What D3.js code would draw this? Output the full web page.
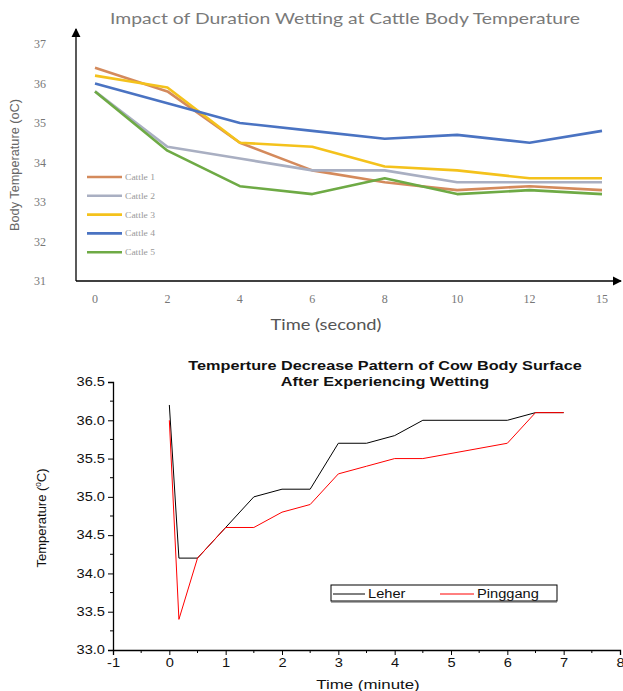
<!DOCTYPE html>
<html>
<head>
<meta charset="utf-8">
<script src="https://cdn.jsdelivr.net/npm/d3@7"></script>
<style>
  body { margin: 0; background: #fff; }
  svg { display: block; }
</style>
</head>
<body>
<svg id="chart"></svg>
<script>
// top chart data
const timeSec = ["0", "2", "4", "6", "8", "10", "12", "15"];
const cattleNames = ["Cattle 1", "Cattle 2", "Cattle 3", "Cattle 4", "Cattle 5"];
const cattle1 = [36.4, 35.8, 34.5, 33.8, 33.5, 33.3, 33.4, 33.3];
const cattle2 = [35.8, 34.4, 34.1, 33.8, 33.8, 33.5, 33.5, 33.5];
const cattle3 = [36.2, 35.9, 34.5, 34.4, 33.9, 33.8, 33.6, 33.6];
const cattle4 = [36.0, 35.5, 35.0, 34.8, 34.6, 34.7, 34.5, 34.8];
const cattle5 = [35.8, 34.3, 33.4, 33.2, 33.6, 33.2, 33.3, 33.2];
const topYTicks = [31, 32, 33, 34, 35, 36, 37];

// bottom chart data
const leherX = [0, 0.17, 0.5, 1, 1.5, 2, 2.5, 3, 3.5, 4, 4.5, 5, 6, 6.5, 7];
const leherY = [36.2, 34.2, 34.2, 34.6, 35.0, 35.1, 35.1, 35.7, 35.7, 35.8, 36.0, 36.0, 36.0, 36.1, 36.1];
const pinggangX = [0, 0.17, 0.5, 1, 1.5, 2, 2.5, 3, 3.5, 4, 4.5, 6, 6.5, 7];
const pinggangY = [36.0, 33.4, 34.2, 34.6, 34.6, 34.8, 34.9, 35.3, 35.4, 35.5, 35.5, 35.7, 36.1, 36.1];
const bottomXTicks = [-1, 0, 1, 2, 3, 4, 5, 6, 7, 8];
const bottomYTicks = [33.0, 33.5, 34.0, 34.5, 35.0, 35.5, 36.0, 36.5];

const svg = d3.select("#chart").attr("width", 623).attr("height", 691);

// the source picture is stretched sideways, so widen horizontal text
function stretch(sel, k) {
  sel.each(function() {
    const w = this.getComputedTextLength();
    d3.select(this).attr("textLength", w * k).attr("lengthAdjust", "spacingAndGlyphs");
  });
}

// ---------- top chart ----------
const colors = ["#D48A5C", "#A9AFC2", "#F4C21C", "#4A73C2", "#6EAA45"];
const series = [cattle1, cattle2, cattle3, cattle4, cattle5];

const x1 = d3.scalePoint().domain(timeSec).range([95, 602]);
const y1 = d3.scaleLinear().domain([31, 37]).range([281, 44]);

const defs = svg.append("defs");
defs.append("marker")
  .attr("id", "arrow")
  .attr("viewBox", "0 0 10 10")
  .attr("refX", 9).attr("refY", 5)
  .attr("markerWidth", 7).attr("markerHeight", 7)
  .attr("orient", "auto")
  .append("path").attr("d", "M0,0 L10,5 L0,10 z").attr("fill", "#000");

svg.append("text")
  .attr("x", 345).attr("y", 24)
  .attr("text-anchor", "middle")
  .attr("font-family", "Lato, sans-serif")
  .attr("font-size", 16)
  .attr("fill", "#7a7a7a")
  .attr("textLength", 470).attr("lengthAdjust", "spacingAndGlyphs")
  .text("Impact of Duration Wetting at Cattle Body Temperature");

// y tick labels
svg.append("g").selectAll("text")
  .data(topYTicks).enter().append("text")
  .attr("x", 40).attr("y", d => y1(d) + 4)
  .attr("text-anchor", "middle")
  .attr("font-family", "Liberation Serif, serif")
  .attr("font-size", 12)
  .attr("fill", "#777")
  .text(d => d);

// x tick labels
svg.append("g").selectAll("text")
  .data(timeSec).enter().append("text")
  .attr("x", d => x1(d)).attr("y", 303)
  .attr("text-anchor", "middle")
  .attr("font-family", "Liberation Serif, serif")
  .attr("font-size", 12)
  .attr("fill", "#777")
  .text(d => d);

// axes with arrows
svg.append("line")
  .attr("x1", 76).attr("y1", 281).attr("x2", 76).attr("y2", 29)
  .attr("stroke", "#000").attr("stroke-width", 1.3)
  .attr("marker-end", "url(#arrow)");
svg.append("line")
  .attr("x1", 76).attr("y1", 281).attr("x2", 621).attr("y2", 281)
  .attr("stroke", "#000").attr("stroke-width", 1.3)
  .attr("marker-end", "url(#arrow)");

svg.append("text")
  .attr("transform", "translate(19,165) rotate(-90)")
  .attr("text-anchor", "middle")
  .attr("font-family", "Liberation Sans, Arial, sans-serif")
  .attr("font-size", 12)
  .attr("fill", "#666")
  .attr("textLength", 132).attr("lengthAdjust", "spacingAndGlyphs")
  .text("Body Temperature (oC)");

svg.append("text")
  .attr("x", 326).attr("y", 330)
  .attr("text-anchor", "middle")
  .attr("font-family", "Lato, sans-serif")
  .attr("font-size", 15)
  .attr("fill", "#555")
  .attr("textLength", 111).attr("lengthAdjust", "spacingAndGlyphs")
  .text("Time (second)");

const line1 = d3.line().x((d, i) => x1(timeSec[i])).y(d => y1(d));
series.forEach((s, k) => {
  svg.append("path")
    .datum(s)
    .attr("d", line1)
    .attr("fill", "none")
    .attr("stroke", colors[k])
    .attr("stroke-width", 2.6)
    .attr("stroke-linejoin", "round");
});

// legend
const leg1 = svg.append("g");
cattleNames.forEach((n, k) => {
  const yy = 177 + k * 18.8;
  leg1.append("line")
    .attr("x1", 87).attr("x2", 122).attr("y1", yy).attr("y2", yy)
    .attr("stroke", colors[k]).attr("stroke-width", 2.6);
  leg1.append("text")
    .attr("x", 125).attr("y", yy + 3)
    .attr("font-family", "Liberation Serif, serif")
    .attr("font-size", 8)
    .attr("fill", "#999")
    .attr("textLength", 30).attr("lengthAdjust", "spacingAndGlyphs")
    .text(n);
});

// ---------- bottom chart ----------
const x2 = d3.scaleLinear().domain([-1, 8]).range([113, 620]);
const y2 = d3.scaleLinear().domain([33, 36.5]).range([650, 382]);

const titleLines = ["Temperture Decrease Pattern of Cow Body Surface", "After Experiencing Wetting"];
svg.append("g").selectAll("text")
  .data(titleLines).enter().append("text")
  .attr("x", 385).attr("y", (d, i) => 370 + i * 16)
  .attr("text-anchor", "middle")
  .attr("font-family", "Liberation Sans, Arial, sans-serif")
  .attr("font-size", 12.5)
  .attr("font-weight", "bold")
  .attr("fill", "#111")
  .text(d => d)
  .call(stretch, 1.3);

const xAxis2 = d3.axisBottom(x2).tickValues(bottomXTicks).tickFormat(d => String(d)).tickSize(5).tickPadding(3);
const yAxis2 = d3.axisLeft(y2).tickValues(bottomYTicks).tickFormat(d3.format(".1f")).tickSize(5).tickPadding(3);

const gx = svg.append("g").attr("transform", "translate(0,650)").call(xAxis2);
const gy = svg.append("g").attr("transform", "translate(113,0)").call(yAxis2);

// minor ticks
svg.append("g").selectAll("line")
  .data(d3.range(-0.5, 8, 1)).enter().append("line")
  .attr("x1", d => x2(d)).attr("x2", d => x2(d))
  .attr("y1", 650).attr("y2", 653)
  .attr("stroke", "#000");
svg.append("g").selectAll("line")
  .data(d3.range(33.25, 36.5, 0.5)).enter().append("line")
  .attr("x1", 113).attr("x2", 110)
  .attr("y1", d => y2(d)).attr("y2", d => y2(d))
  .attr("stroke", "#000");

[gx, gy].forEach(g => {
  g.select(".domain").attr("stroke", "#000").attr("stroke-width", 1.3);
  g.selectAll(".tick line").attr("stroke", "#000");
  g.selectAll(".tick text")
    .attr("font-family", "Liberation Sans, Arial, sans-serif")
    .attr("font-size", 12)
    .attr("fill", "#111")
    .call(stretch, 1.22);
});

const ylab = svg.append("text")
  .attr("transform", "translate(46,518) rotate(-90)")
  .attr("text-anchor", "middle")
  .attr("font-family", "Liberation Sans, Arial, sans-serif")
  .attr("font-size", 13)
  .attr("fill", "#111");
ylab.append("tspan").text("Temperature (");
ylab.append("tspan").attr("font-size", 8).attr("dy", -5).text("0");
ylab.append("tspan").attr("dy", 5).text("C)");

svg.append("text")
  .attr("x", 368).attr("y", 689)
  .attr("text-anchor", "middle")
  .attr("font-family", "Liberation Sans, Arial, sans-serif")
  .attr("font-size", 13.5)
  .attr("fill", "#111")
  .text("Time (minute)")
  .call(stretch, 1.25);

const line2 = d3.line().x(d => x2(d[0])).y(d => y2(d[1]));
svg.append("path")
  .datum(leherX.map((v, i) => [v, leherY[i]]))
  .attr("d", line2)
  .attr("fill", "none").attr("stroke", "#000").attr("stroke-width", 1);
svg.append("path")
  .datum(pinggangX.map((v, i) => [v, pinggangY[i]]))
  .attr("d", line2)
  .attr("fill", "none").attr("stroke", "#f00").attr("stroke-width", 1);

// legend box
const leg2 = svg.append("g");
leg2.append("rect")
  .attr("x", 331).attr("y", 585).attr("width", 226).attr("height", 16)
  .attr("fill", "#fff").attr("stroke", "#000").attr("stroke-width", 1);
leg2.append("line").attr("x1", 331).attr("x2", 557).attr("y1", 602).attr("y2", 602).attr("stroke", "#555");
leg2.append("line").attr("x1", 333).attr("x2", 365).attr("y1", 594).attr("y2", 594).attr("stroke", "#000");
leg2.append("text").attr("x", 368).attr("y", 598)
  .attr("font-family", "Liberation Sans, Arial, sans-serif").attr("font-size", 12).attr("fill", "#111")
  .text("Leher").call(stretch, 1.22);
leg2.append("line").attr("x1", 440).attr("x2", 474).attr("y1", 594).attr("y2", 594).attr("stroke", "#f00");
leg2.append("text").attr("x", 477).attr("y", 598)
  .attr("font-family", "Liberation Sans, Arial, sans-serif").attr("font-size", 12).attr("fill", "#111")
  .text("Pinggang").call(stretch, 1.22);
</script>
</body>
</html>
